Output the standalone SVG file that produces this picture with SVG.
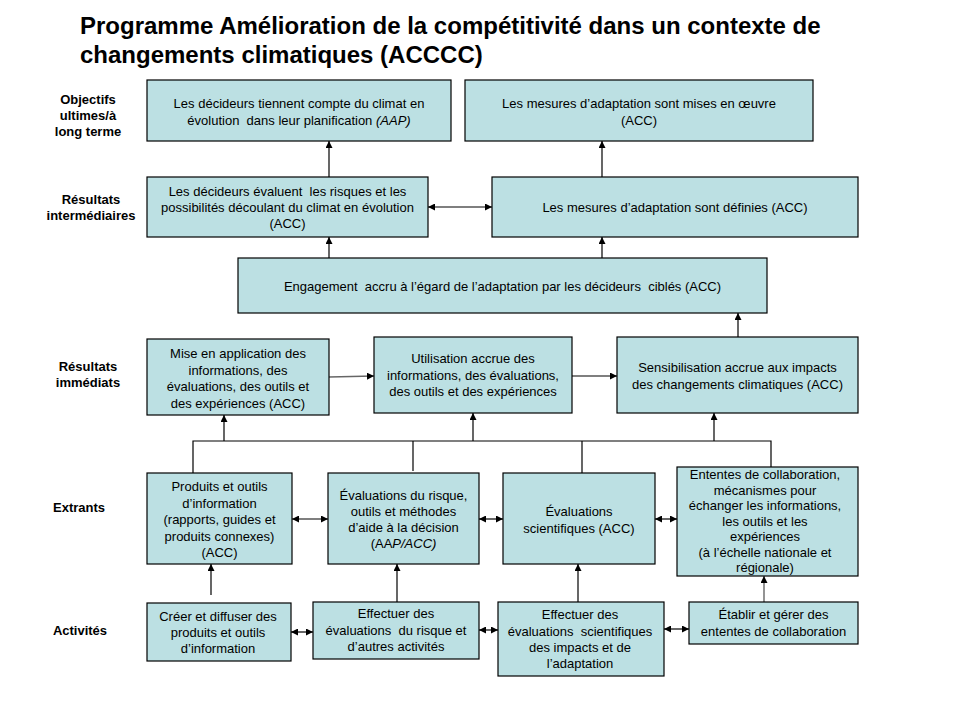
<svg xmlns="http://www.w3.org/2000/svg" width="960" height="720" viewBox="0 0 960 720">
<defs>
<style>
.bx{fill:#BCE0E3;stroke:#000;stroke-width:1.2}
.t{font-family:"Liberation Sans",Arial,sans-serif;font-size:13px;fill:#000;text-anchor:middle;white-space:pre}
.lb{font-family:"Liberation Sans",Arial,sans-serif;font-size:13px;font-weight:bold;fill:#000;text-anchor:middle}
.ti{font-family:"Liberation Sans",Arial,sans-serif;font-size:24px;font-weight:bold;fill:#000}
.c{stroke:#000;stroke-width:1.2;fill:none}
.g{stroke:#666;stroke-width:1.4;fill:none}
.a{marker-end:url(#ah)}
.d{marker-start:url(#ah);marker-end:url(#ah)}
</style>
<marker id="ah" viewBox="0 0 10 10" refX="10" refY="5" markerWidth="7" markerHeight="7" markerUnits="userSpaceOnUse" orient="auto-start-reverse"><path d="M0,0 L10,5 L0,10 z" fill="#000"/></marker>
</defs>
<rect width="960" height="720" fill="#fff"/>
<g id="title">
<text class="ti" x="80" y="34">Programme Amélioration de la compétitivité dans un contexte de</text>
<text class="ti" x="80" y="63">changements climatiques (ACCCC)</text>
</g>
<g id="labels">
<text class="lb" x="88" y="104">Objectifs</text>
<text class="lb" x="88" y="120">ultimes/à</text>
<text class="lb" x="88" y="136">long terme</text>
<text class="lb" x="91" y="204">Résultats</text>
<text class="lb" x="91" y="220">intermédiaires</text>
<text class="lb" x="88" y="371">Résultats</text>
<text class="lb" x="88" y="387">immédiats</text>
<text class="lb" x="79" y="512">Extrants</text>
<text class="lb" x="80" y="635">Activités</text>
</g>
<g id="connectors">
<line class="c a" x1="329" y1="177" x2="329" y2="141"/>
<line class="c a" x1="329" y1="258" x2="329" y2="237"/>
<line class="c a" x1="602" y1="177" x2="602" y2="141"/>
<line class="c a" x1="602" y1="258" x2="602" y2="237"/>
<line class="c d" x1="428" y1="207" x2="492" y2="207"/>
<line class="c a" x1="738" y1="337" x2="738" y2="313"/>
<line class="g a" x1="329" y1="377" x2="374" y2="376"/>
<line class="c a" x1="572" y1="376" x2="617" y2="376"/>
<polyline class="c" points="193,473 193,441 771,441 771,467"/>
<line class="c" x1="413" y1="441" x2="413" y2="471"/>
<line class="c" x1="582" y1="441" x2="582" y2="473"/>
<line class="c a" x1="224" y1="441" x2="224" y2="415"/>
<line class="c a" x1="473" y1="441" x2="473" y2="413"/>
<line class="c a" x1="714" y1="441" x2="714" y2="413"/>
<line class="c d" x1="292" y1="519" x2="328" y2="519"/>
<line class="c d" x1="479" y1="519" x2="503" y2="519"/>
<line class="c d" x1="655" y1="519" x2="677" y2="519"/>
<line class="c d" x1="291" y1="632" x2="313" y2="632"/>
<line class="c d" x1="479" y1="630" x2="498" y2="630"/>
<line class="c d" x1="664" y1="629" x2="689" y2="629"/>
<line class="c a" x1="211" y1="595" x2="211" y2="564"/>
<line class="c a" x1="397" y1="602" x2="397" y2="564"/>
<line class="c a" x1="578" y1="602" x2="578" y2="564"/>
<line class="g a" x1="764" y1="602" x2="764" y2="576"/>
</g>
<g id="nodeA">
<rect class="bx" x="147" y="80" width="304" height="61"/>
<text class="t" x="299" y="108">Les décideurs tiennent compte du climat en</text>
<text class="t" x="299" y="125">évolution  dans leur planification <tspan font-style="italic">(AAP)</tspan></text>
</g>
<g id="nodeB">
<rect class="bx" x="465" y="80" width="348" height="61"/>
<text class="t" x="639" y="108">Les mesures d’adaptation sont mises en œuvre</text>
<text class="t" x="639" y="125">(ACC)</text>
</g>
<g id="nodeC">
<rect class="bx" x="147" y="177" width="281" height="60"/>
<text class="t" x="287.5" y="196">Les décideurs évaluent  les risques et les</text>
<text class="t" x="287.5" y="212">possibilités découlant du climat en évolution</text>
<text class="t" x="287.5" y="228">(ACC)</text>
</g>
<g id="nodeD">
<rect class="bx" x="492" y="177" width="366" height="60"/>
<text class="t" x="675" y="212">Les mesures d’adaptation sont définies (ACC)</text>
</g>
<g id="nodeE">
<rect class="bx" x="238" y="258" width="529" height="55"/>
<text class="t" x="502.5" y="291">Engagement  accru à l’égard de l’adaptation par les décideurs  ciblés (ACC)</text>
</g>
<g id="nodeF">
<rect class="bx" x="147" y="339" width="182" height="76"/>
<text class="t" x="238" y="358">Mise en application des</text>
<text class="t" x="238" y="374.5">informations, des</text>
<text class="t" x="238" y="391">évaluations, des outils et</text>
<text class="t" x="238" y="407.5">des expériences (ACC)</text>
</g>
<g id="nodeG">
<rect class="bx" x="374" y="337" width="198" height="76"/>
<text class="t" x="473" y="363">Utilisation accrue des</text>
<text class="t" x="473" y="379.5">informations, des évaluations,</text>
<text class="t" x="473" y="396">des outils et des expériences</text>
</g>
<g id="nodeH">
<rect class="bx" x="617" y="337" width="241" height="76"/>
<text class="t" x="737.5" y="372">Sensibilisation accrue aux impacts</text>
<text class="t" x="737.5" y="389">des changements climatiques (ACC)</text>
</g>
<g id="nodeI">
<rect class="bx" x="147" y="473" width="145" height="91"/>
<text class="t" x="219.5" y="491">Produits et outils</text>
<text class="t" x="219.5" y="507.5">d’information</text>
<text class="t" x="219.5" y="524">(rapports, guides et</text>
<text class="t" x="219.5" y="540.5">produits connexes)</text>
<text class="t" x="219.5" y="557">(ACC)</text>
</g>
<g id="nodeJ">
<rect class="bx" x="328" y="473" width="151" height="91"/>
<text class="t" x="403.5" y="500">Évaluations du risque,</text>
<text class="t" x="403.5" y="516">outils et méthodes</text>
<text class="t" x="403.5" y="532">d’aide à la décision</text>
<text class="t" x="403.5" y="548">(AA<tspan font-style="italic">P/ACC)</tspan></text>
</g>
<g id="nodeK">
<rect class="bx" x="503" y="473" width="152" height="91"/>
<text class="t" x="579" y="516">Évaluations</text>
<text class="t" x="579" y="533">scientifiques (ACC)</text>
</g>
<g id="nodeL">
<rect class="bx" x="677" y="467" width="181" height="109"/>
<text class="t" x="765" y="479">Ententes de collaboration,</text>
<text class="t" x="765" y="494.5">mécanismes pour</text>
<text class="t" x="765" y="510">échanger les informations,</text>
<text class="t" x="765" y="525.5">les outils et les</text>
<text class="t" x="765" y="541">expériences</text>
<text class="t" x="765" y="556.5">(à l’échelle nationale et</text>
<text class="t" x="765" y="572">régionale)</text>
</g>
<g id="nodeM">
<rect class="bx" x="147" y="603" width="144" height="58"/>
<text class="t" x="218" y="621">Créer et diffuser des</text>
<text class="t" x="218" y="637">produits et outils</text>
<text class="t" x="218" y="653">d’information</text>
</g>
<g id="nodeN">
<rect class="bx" x="313" y="602" width="166" height="57"/>
<text class="t" x="396" y="618">Effectuer des</text>
<text class="t" x="396" y="634.5">évaluations  du risque et</text>
<text class="t" x="396" y="651">d’autres activités</text>
</g>
<g id="nodeO">
<rect class="bx" x="498" y="602" width="166" height="74"/>
<text class="t" x="580" y="619">Effectuer des</text>
<text class="t" x="580" y="635.5">évaluations  scientifiques</text>
<text class="t" x="580" y="652">des impacts et de</text>
<text class="t" x="580" y="668">l’adaptation</text>
</g>
<g id="nodeP">
<rect class="bx" x="689" y="602" width="169" height="42"/>
<text class="t" x="773.5" y="619">Établir et gérer des</text>
<text class="t" x="773.5" y="636">ententes de collaboration</text>
</g>
</svg>
